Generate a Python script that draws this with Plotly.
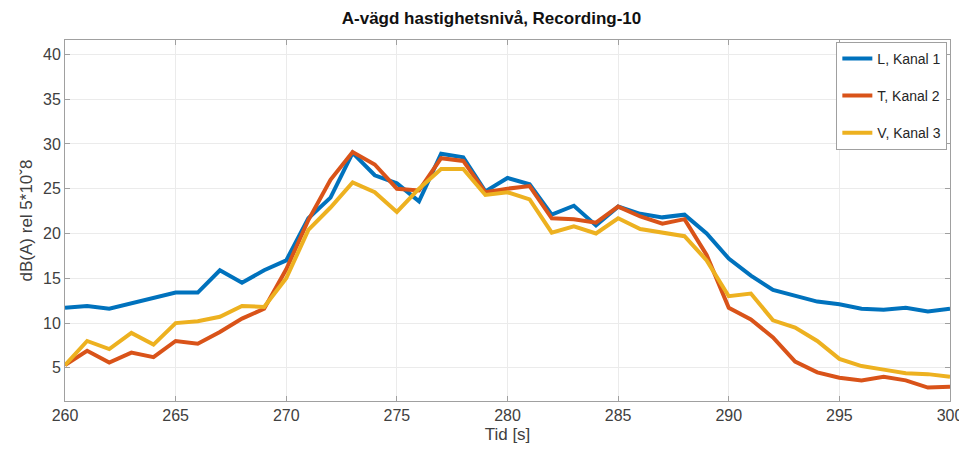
import plotly.graph_objects as go

time_s = list(range(260, 301))
kanal1_L = [11.7, 11.9, 11.6, 12.2, 12.7, 13.4, 13.4, 15.9, 14.5, 15.9,
            17.0, 21.7, 24.0, 29.0, 26.5, 25.6, 23.6, 28.9, 28.5, 24.7,
            26.2, 25.5, 22.1, 23.1, 20.9, 23.0, 22.2, 21.8, 22.1, 20.0,
            17.2, 15.3, 13.7, 13.0, 12.4, 12.1, 11.6, 11.5, 11.7, 11.3, 11.6]
kanal2_T = [5.3, 6.9, 5.6, 6.7, 6.2, 8.0, 7.7, 9.0, 10.5, 11.6,
            16.0, 21.5, 26.0, 29.1, 27.7, 25.0, 24.8, 28.4, 28.1, 24.6,
            25.0, 25.3, 21.7, 21.6, 21.2, 23.0, 21.9, 21.1, 21.6, 17.6,
            11.7, 10.4, 8.4, 5.7, 4.5, 3.9, 3.6, 4.0, 3.6, 2.8, 2.9]
kanal3_V = [5.3, 8.0, 7.1, 8.9, 7.6, 10.0, 10.2, 10.7, 11.9, 11.8,
            15.0, 20.4, 22.9, 25.7, 24.6, 22.4, 25.0, 27.2, 27.2, 24.3,
            24.6, 23.8, 20.1, 20.8, 20.0, 21.7, 20.5, 20.1, 19.7, 17.0,
            13.0, 13.3, 10.3, 9.5, 8.0, 6.0, 5.2, 4.8, 4.4, 4.3, 4.0]

series_names = ["L, Kanal 1", "T, Kanal 2", "V, Kanal 3"]
series_values = [kanal1_L, kanal2_T, kanal3_V]
series_colors = ["#0072BD", "#D95319", "#EDB120"]
x_ticks = list(range(260, 301, 5))
y_ticks = list(range(5, 41, 5))

fig = go.Figure()
for i, (name, vals, col) in enumerate(zip(series_names, series_values, series_colors)):
    fig.add_trace(go.Scatter(x=time_s, y=vals, mode="lines", name=name,
                             legendgroup=f"g{i}",
                             line=dict(color=col, width=4)))

axis_common = dict(showline=True, linecolor="#a0a0a0", linewidth=1, mirror="ticks",
                   ticks="inside", ticklen=5, tickcolor="#a0a0a0",
                   showgrid=True, gridcolor="#ebebeb", zeroline=False,
                   tickfont=dict(size=16, color="#404040"))

fig.update_layout(
    width=967, height=449,
    margin=dict(l=57, r=17, t=32, b=56),
    paper_bgcolor="white", plot_bgcolor="white",
    font=dict(family="Liberation Sans, Arial, sans-serif", color="#262626"),
    title=dict(text="<b>A-vägd hastighetsnivå, Recording-10</b>", x=0.5, xanchor="center",
               y=0.99, yanchor="top", font=dict(size=17, color="#111111")),
    xaxis=dict(range=[260, 300], tickvals=x_ticks,
               title=dict(text="Tid [s]", font=dict(size=17, color="#404040"), standoff=4),
               **axis_common),
    yaxis=dict(range=[1.3, 41.6], tickvals=y_ticks,
               title=dict(text="dB(A) rel 5*10ˇ8", font=dict(size=17, color="#404040"), standoff=6),
               **axis_common),
    legend=dict(x=0.997, xanchor="right", y=0.995, yanchor="top",
                bordercolor="#a0a0a0", borderwidth=1, bgcolor="white",
                font=dict(size=14, color="#262626"), tracegroupgap=16,
                itemwidth=30),
    showlegend=True,
)

fig.write_html("out.html")
